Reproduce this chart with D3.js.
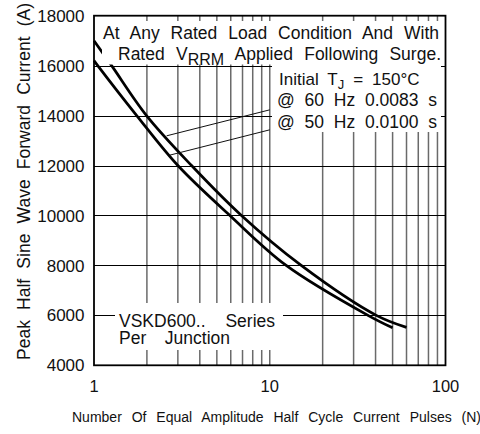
<!DOCTYPE html>
<html>
<head>
<meta charset="utf-8">
<script src="https://cdn.jsdelivr.net/npm/d3@7"></script>
<style>
  body { margin: 0; background: #fff; }
  svg { display: block; }
  text { font-family: "Liberation Sans", Arial, Helvetica, sans-serif; fill: #111; }
</style>
</head>
<body>
<svg id="chart" width="480" height="434"></svg>
<script>
// surge current curves
var pulses60 = [1, 1.26, 1.99, 3.59, 6.9, 15.1, 40.4, 60];
var current60 = [17000, 16000, 14000, 12000, 10000, 8000, 6000, 5520];
var pulses50 = [1, 1.05, 1.75, 3, 5.93, 12.4, 36.2, 50];
var current50 = [16200, 16000, 14000, 12000, 10000, 8000, 6000, 5500];

var yTicks = [4000, 6000, 8000, 10000, 12000, 14000, 16000, 18000];
var xTicks = [1, 10, 100];
var xGrid = [2, 3, 4, 5, 6, 7, 8, 9, 10, 20, 30, 40, 50, 60, 70, 80, 90];

var svg = d3.select("#chart");

var x = d3.scaleLog().domain([1, 100]).range([94, 445.5]);
var y = d3.scaleLinear().domain([4000, 18000]).range([365.3, 15.7]);

// grid
svg.append("g").selectAll("line")
  .data(xGrid)
  .enter().append("line")
  .attr("x1", function(d) { return x(d); })
  .attr("x2", function(d) { return x(d); })
  .attr("y1", y(18000))
  .attr("y2", y(4000))
  .attr("stroke", "#6a6a6a")
  .attr("stroke-width", 1.5);

svg.append("g").selectAll("line")
  .data(yTicks.slice(1, -1))
  .enter().append("line")
  .attr("x1", x(1))
  .attr("x2", x(100))
  .attr("y1", function(d) { return Math.round(y(d)) + 0.5; })
  .attr("y2", function(d) { return Math.round(y(d)) + 0.5; })
  .attr("stroke", "#000")
  .attr("stroke-width", 1.2);

// curves
var line = d3.line()
  .x(function(d) { return x(d[0]); })
  .y(function(d) { return y(d[1]); })
  .curve(d3.curveCatmullRom.alpha(0.5));

[d3.zip(pulses60, current60), d3.zip(pulses50, current50)].forEach(function(pts) {
  svg.append("path")
    .attr("d", line(pts))
    .attr("fill", "none")
    .attr("stroke", "#000")
    .attr("stroke-width", 2.7);
});

// white boxes behind the notes
var boxes = [
  [102, 21, 340, 43.5],
  [272, 64, 169, 68],
  [115, 303, 168, 47]
];
svg.append("g").selectAll("rect")
  .data(boxes)
  .enter().append("rect")
  .attr("x", function(d) { return d[0]; })
  .attr("y", function(d) { return d[1]; })
  .attr("width", function(d) { return d[2]; })
  .attr("height", function(d) { return d[3]; })
  .attr("fill", "#fff");

// stretch word gaps so a line fills the given width
function fit(t, width) {
  t.attr("word-spacing", 0);
  var w = t.node().getComputedTextLength();
  var n = (t.text().match(/ /g) || []).length;
  if (n > 0) t.attr("word-spacing", (width - w) / n);
}

function note(str, x0, x1, base, size) {
  var t = svg.append("text")
    .attr("x", x0).attr("y", base)
    .attr("font-size", size)
    .text(str);
  fit(t, x1 - x0);
  return t;
}

note("At Any Rated Load Condition And With", 103, 439, 38.5, 17.5);

var t2 = svg.append("text").attr("x", 118).attr("y", 60).attr("font-size", 17.5);
t2.append("tspan").text("Rated V");
t2.append("tspan").attr("dy", 4.5).attr("font-size", 16).text("RRM");
t2.append("tspan").attr("dy", -4.5).text(" Applied Following Surge.");
fit(t2, 441 - 118);

var t3 = svg.append("text").attr("x", 279).attr("y", 85).attr("font-size", 17);
t3.append("tspan").text("Initial T");
t3.append("tspan").attr("dy", 4).attr("font-size", 13).text("J");
t3.append("tspan").attr("dy", -4).text("  =  150°C");
fit(t3, 428 - 279);

note("@ 60 Hz 0.0083 s", 277, 437, 106, 17.5);
note("@ 50 Hz 0.0100 s", 277, 437, 127.5, 17.5);
note("VSKD600.. Series", 119, 275, 327, 17.5);
note("Per Junction", 119, 230, 344, 17.5);

// leader lines from the curves to their labels
var leaders = [
  [[2.59, 13190], [10, 14230]],
  [[2.7, 12416], [10, 13430]]
];
svg.append("g").selectAll("line")
  .data(leaders)
  .enter().append("line")
  .attr("x1", function(d) { return x(d[0][0]); })
  .attr("y1", function(d) { return y(d[0][1]); })
  .attr("x2", function(d) { return x(d[1][0]); })
  .attr("y2", function(d) { return y(d[1][1]); })
  .attr("stroke", "#111")
  .attr("stroke-width", 1);

// frame
svg.append("rect")
  .attr("x", x(1)).attr("y", y(18000))
  .attr("width", x(100) - x(1)).attr("height", y(4000) - y(18000))
  .attr("fill", "none").attr("stroke", "#000").attr("stroke-width", 1.8);

// tick labels
svg.append("g").selectAll("text")
  .data(yTicks)
  .enter().append("text")
  .attr("x", 84.5)
  .attr("y", function(d) { return y(d); })
  .attr("dy", "0.36em")
  .attr("text-anchor", "end")
  .attr("font-size", 17)
  .text(function(d) { return d; });

svg.append("g").selectAll("text")
  .data(xTicks)
  .enter().append("text")
  .attr("x", function(d) { return x(d); })
  .attr("y", 392)
  .attr("text-anchor", "middle")
  .attr("font-size", 16.5)
  .text(function(d) { return d; });

// axis titles
var xt = svg.append("text").attr("x", 72).attr("y", 421.5).attr("font-size", 14)
  .text("Number Of Equal Amplitude Half Cycle Current Pulses (N)");
fit(xt, 481 - 72);

var yt = svg.append("text")
  .attr("transform", "translate(30,360) rotate(-90)")
  .attr("font-size", 17.5)
  .text("Peak Half Sine Wave Forward Current (A)");
fit(yt, 357);
</script>
</body>
</html>
